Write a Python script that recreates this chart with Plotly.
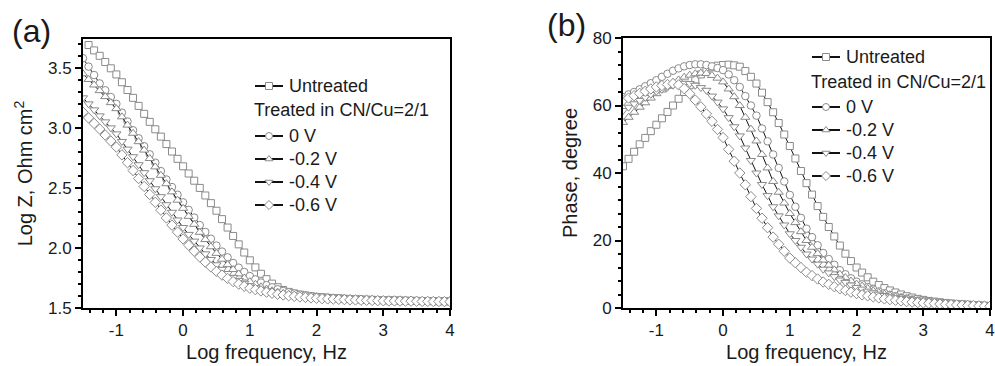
import plotly.graph_objects as go

# log frequency grid (12 points per decade, -1.5 .. 4)
log_f = [round(-1.5 + k / 12, 4) for k in range(67)]

series_names = ["Untreated", "0 V", "-0.2 V", "-0.4 V", "-0.6 V"]
legend_header = "Treated in CN/Cu=2/1"
symbols = ["square", "circle", "triangle-up", "triangle-down", "diamond"]
x_tickvals = [-1, 0, 1, 2, 3, 4]
x_ticktext = ["-1", "0", "1", "2", "3", "4"]

# Panel (a): Log Z, Ohm cm2
logz_untreated = [None, 3.69, 3.645, 3.60, 3.548, 3.496, 3.445, 3.38, 3.315, 3.25, 3.183, 3.117, 3.05, 2.988, 2.927, 2.865, 2.803, 2.742, 2.68, 2.62, 2.56, 2.50, 2.437, 2.373, 2.31, 2.24, 2.17, 2.10, 2.03, 1.962, 1.897, 1.838, 1.785, 1.74, 1.703, 1.673, 1.65, 1.634, 1.621, 1.611, 1.604, 1.598, 1.592, 1.589, 1.585, 1.582, 1.58, 1.577, 1.575, 1.573, 1.571, 1.569, 1.568, 1.566, 1.565, 1.564, 1.563, 1.562, 1.561, 1.56, 1.559, 1.558, 1.558, 1.557, 1.556, 1.556, 1.555]
logz_0v = [3.58, 3.51, 3.44, 3.37, 3.313, 3.257, 3.20, 3.127, 3.053, 2.98, 2.913, 2.847, 2.78, 2.71, 2.64, 2.57, 2.507, 2.443, 2.38, 2.317, 2.253, 2.19, 2.133, 2.077, 2.02, 1.97, 1.922, 1.875, 1.836, 1.80, 1.766, 1.738, 1.712, 1.69, 1.672, 1.656, 1.642, 1.631, 1.621, 1.612, 1.605, 1.599, 1.594, 1.59, 1.586, 1.583, 1.58, 1.578, 1.576, 1.574, 1.572, 1.57, 1.569, 1.567, 1.566, 1.565, 1.563, 1.562, 1.561, 1.56, 1.559, 1.558, 1.558, 1.557, 1.556, 1.556, 1.555]
logz_m02v = [3.45, 3.403, 3.357, 3.31, 3.26, 3.21, 3.16, 3.092, 3.023, 2.955, 2.885, 2.815, 2.745, 2.675, 2.605, 2.535, 2.467, 2.398, 2.33, 2.263, 2.197, 2.13, 2.07, 2.01, 1.955, 1.906, 1.861, 1.82, 1.784, 1.75, 1.72, 1.697, 1.676, 1.658, 1.644, 1.632, 1.622, 1.614, 1.607, 1.60, 1.595, 1.591, 1.587, 1.584, 1.581, 1.579, 1.577, 1.575, 1.573, 1.571, 1.57, 1.568, 1.567, 1.565, 1.564, 1.563, 1.562, 1.561, 1.56, 1.559, 1.558, 1.557, 1.557, 1.556, 1.555, 1.555, 1.554]
logz_m04v = [3.25, 3.20, 3.15, 3.10, 3.05, 3.00, 2.95, 2.887, 2.823, 2.76, 2.693, 2.627, 2.56, 2.493, 2.427, 2.36, 2.297, 2.233, 2.17, 2.113, 2.057, 2.00, 1.951, 1.904, 1.86, 1.822, 1.787, 1.755, 1.73, 1.706, 1.685, 1.669, 1.655, 1.642, 1.631, 1.622, 1.613, 1.606, 1.60, 1.595, 1.591, 1.587, 1.583, 1.58, 1.577, 1.575, 1.573, 1.571, 1.569, 1.568, 1.566, 1.565, 1.564, 1.562, 1.561, 1.56, 1.559, 1.558, 1.557, 1.557, 1.556, 1.555, 1.555, 1.554, 1.554, 1.553, 1.553]
logz_m06v = [3.13, 3.083, 3.037, 2.99, 2.94, 2.89, 2.84, 2.775, 2.71, 2.645, 2.578, 2.512, 2.445, 2.38, 2.315, 2.25, 2.19, 2.132, 2.075, 2.023, 1.973, 1.925, 1.882, 1.842, 1.805, 1.774, 1.746, 1.72, 1.699, 1.681, 1.665, 1.653, 1.642, 1.632, 1.623, 1.615, 1.608, 1.602, 1.597, 1.592, 1.588, 1.584, 1.581, 1.578, 1.576, 1.574, 1.572, 1.57, 1.568, 1.567, 1.565, 1.564, 1.563, 1.561, 1.56, 1.559, 1.559, 1.558, 1.557, 1.557, 1.556, 1.555, 1.555, 1.554, 1.554, 1.553, 1.553]

# Panel (b): Phase, degree
ph_untreated = [42, 44.2, 46.3, 48.5, 50.4, 52.4, 54.3, 56.2, 58.1, 60, 62, 64, 66, 67.7, 69.2, 70.5, 71.3, 71.8, 72, 72.1, 71.9, 71.5, 70.2, 68.5, 66.5, 63.8, 61, 58, 54.8, 51.4, 48, 44.3, 40.6, 37, 33.6, 30.2, 27, 24, 21.2, 18.5, 16.1, 13.9, 12, 10.5, 9.1, 7.8, 6.8, 5.9, 5.2, 4.6, 4.0, 3.5, 3.1, 2.7, 2.4, 2.1, 1.9, 1.7, 1.5, 1.35, 1.2, 1.1, 1.0, 0.9, 0.8, 0.7, 0.6]
ph_0v = [62.5, 63.3, 64.0, 64.8, 65.7, 66.6, 67.5, 68.5, 69.4, 70.3, 71.0, 71.6, 72, 72.2, 72.2, 72, 71.6, 71.1, 70.5, 69.2, 67.5, 65.5, 62.8, 60, 57, 53.2, 49.4, 45.5, 41.5, 37.5, 33.5, 30, 26.7, 23.5, 21, 18.6, 16.3, 14.5, 12.8, 11.2, 10, 8.8, 7.8, 7.0, 6.2, 5.5, 4.9, 4.4, 3.9, 3.5, 3.1, 2.8, 2.5, 2.2, 2.0, 1.8, 1.65, 1.5, 1.35, 1.2, 1.1, 1.0, 0.9, 0.8, 0.75, 0.65, 0.6]
ph_m02v = [55, 56.5, 58, 59.5, 60.8, 62.2, 63.5, 64.6, 65.7, 66.8, 67.6, 68.4, 69, 69.4, 69.6, 69.5, 68.9, 68.1, 67, 64.9, 62.6, 60, 56.5, 53, 49.5, 45.5, 41.5, 37.5, 34.3, 31.1, 28, 25.3, 22.6, 20, 18, 16.1, 14.2, 12.7, 11.3, 10, 9.0, 8.0, 7.1, 6.5, 5.8, 5.1, 4.6, 4.1, 3.7, 3.3, 3.0, 2.7, 2.4, 2.1, 1.9, 1.7, 1.55, 1.4, 1.25, 1.1, 1.0, 0.9, 0.8, 0.75, 0.65, 0.6, 0.55]
ph_m04v = [58.5, 59.5, 60.5, 61.5, 62.4, 63.3, 64.2, 64.8, 65.4, 66, 66.4, 66.6, 66.5, 66.0, 65.3, 64.5, 62.8, 61.0, 59, 56.4, 53.7, 51, 47.4, 43.7, 40, 36.6, 33.3, 30, 27.3, 24.6, 22, 20, 18, 16, 14.5, 13, 11.5, 10.4, 9.3, 8.3, 7.6, 6.8, 6.1, 5.6, 5.0, 4.5, 4.1, 3.7, 3.3, 3.0, 2.8, 2.5, 2.3, 2.0, 1.8, 1.65, 1.5, 1.35, 1.2, 1.1, 1.0, 0.9, 0.85, 0.75, 0.7, 0.6, 0.55]
ph_m06v = [61.5, 62.2, 62.9, 63.6, 64.2, 64.9, 65.5, 65.9, 66.2, 66.5, 66.1, 65, 63.5, 61.6, 59.6, 57.5, 55.3, 52.9, 50.5, 47, 43.5, 40, 36.5, 33, 29.5, 26.6, 23.8, 21, 18.9, 16.8, 14.8, 13.4, 12, 10.6, 9.6, 8.6, 7.7, 7.0, 6.3, 5.7, 5.2, 4.7, 4.3, 3.9, 3.6, 3.3, 3.0, 2.7, 2.5, 2.3, 2.1, 1.9, 1.75, 1.6, 1.5, 1.4, 1.3, 1.15, 1.05, 1.0, 0.9, 0.85, 0.75, 0.7, 0.6, 0.55, 0.5]

logz_all = [logz_untreated, logz_0v, logz_m02v, logz_m04v, logz_m06v]
phase_all = [ph_untreated, ph_0v, ph_m02v, ph_m04v, ph_m06v]

FONT = "Liberation Sans, Arial, sans-serif"
TXT = "#1a1a1a"
MK = "#8a8a8a"
sizes = [7, 7.5, 8, 8, 8]
W, H = 995, 366


def fx(px):
    return px / W


def fy(py):
    return 1 - py / H


fig = go.Figure()
for i, name in enumerate(series_names):
    for panel, ydata in (("a", logz_all[i]), ("b", phase_all[i])):
        fig.add_trace(go.Scatter(
            x=log_f, y=ydata, name=name, mode="lines+markers", showlegend=False,
            xaxis="x" if panel == "a" else "x2",
            yaxis="y" if panel == "a" else "y2",
            line=dict(color="#111111", width=1),
            marker=dict(symbol=symbols[i], size=sizes[i], color="white",
                        line=dict(color=MK, width=1)),
        ))

# ---- hand-built legends (layout positions in pixels, overlay axes x3/y3) ----
legend_layout = {
    # panel: (symbol-left x, text-left x, header-left x, row y's [untreated, header, 0V, -0.2, -0.4, -0.6])
    "a": (255, 287, 252, [86, 110, 136, 159, 182, 205]),
    "b": (812, 844, 809, [57, 82, 107, 130, 153, 176]),
}
SEG = 28
for panel, (xs, xt, xh, rows) in legend_layout.items():
    row_of_series = [rows[0]] + rows[2:]
    for i, name in enumerate(series_names):
        yr = row_of_series[i]
        fig.add_trace(go.Scatter(
            x=[xs, xs + SEG], y=[yr, yr], mode="lines", showlegend=False, hoverinfo="skip",
            xaxis="x3", yaxis="y3", line=dict(color="#111111", width=2)))
        fig.add_trace(go.Scatter(
            x=[xs + SEG / 2], y=[yr], mode="markers", showlegend=False, hoverinfo="skip",
            xaxis="x3", yaxis="y3",
            marker=dict(symbol=symbols[i], size=7, color="white", line=dict(color=MK, width=1))))
        fig.add_annotation(x=xt, y=yr, xref="x3", yref="y3", text=name, showarrow=False,
                           xanchor="left", yanchor="middle",
                           font=dict(family=FONT, size=18, color=TXT))
    fig.add_annotation(x=xh, y=rows[1], xref="x3", yref="y3", text=legend_header, showarrow=False,
                       xanchor="left", yanchor="middle",
                       font=dict(family=FONT, size=18, color=TXT))

axis_common = dict(
    showline=True, linecolor="black", linewidth=2, mirror=True,
    ticks="outside", ticklen=6, tickwidth=1.5, tickcolor="black",
    showgrid=False, zeroline=False, automargin=False,
    tickfont=dict(family=FONT, size=17, color=TXT),
)
minor_x = dict(dtick=0.2, tick0=0, ticks="outside", ticklen=3, tickcolor="black", tickwidth=1.5)
title_font = dict(family=FONT, size=20, color=TXT)

fig.update_layout(
    width=W, height=H,
    margin=dict(l=0, r=0, t=0, b=0, autoexpand=False),
    paper_bgcolor="white", plot_bgcolor="rgba(0,0,0,0)",
    font=dict(family=FONT, color=TXT),
    showlegend=False,
    xaxis=dict(domain=[fx(83), fx(450)], range=[-1.5, 4], tickmode="array",
               tickvals=x_tickvals, ticktext=x_ticktext, minor=minor_x,
               title=dict(text="Log frequency, Hz", font=title_font, standoff=6),
               anchor="y", **axis_common),
    yaxis=dict(domain=[fy(308), fy(39)], range=[1.5, 3.74], dtick=0.5, tick0=1.5, tickformat=".1f",
               minor=dict(dtick=0.1, tick0=1.5, ticks="outside", ticklen=3, tickcolor="black", tickwidth=1.5),
               title=dict(text="Log Z, Ohm cm<sup>2</sup>", font=title_font, standoff=10),
               anchor="x", **axis_common),
    xaxis2=dict(domain=[fx(623), fx(990)], range=[-1.5, 4], tickmode="array",
                tickvals=x_tickvals, ticktext=x_ticktext, minor=minor_x,
                title=dict(text="Log frequency, Hz", font=title_font, standoff=6),
                anchor="y2", **axis_common),
    yaxis2=dict(domain=[fy(308), fy(38)], range=[0, 80], dtick=20, tick0=0,
                minor=dict(dtick=4, tick0=0, ticks="outside", ticklen=3, tickcolor="black", tickwidth=1.5),
                title=dict(text="Phase, degree", font=title_font, standoff=10),
                anchor="x2", **axis_common),
    xaxis3=dict(domain=[0, 1], range=[0, W], visible=False, anchor="y3", fixedrange=True),
    yaxis3=dict(domain=[0, 1], range=[H, 0], visible=False, anchor="x3", fixedrange=True),
)

fig.add_annotation(x=fx(10), y=fy(31), xref="paper", yref="paper", text="(a)",
                   showarrow=False, xanchor="left", yanchor="middle",
                   font=dict(family=FONT, size=32, color=TXT))
fig.add_annotation(x=fx(545), y=fy(25), xref="paper", yref="paper", text="(b)",
                   showarrow=False, xanchor="left", yanchor="middle",
                   font=dict(family=FONT, size=32, color=TXT))

fig.write_html("out.html")
